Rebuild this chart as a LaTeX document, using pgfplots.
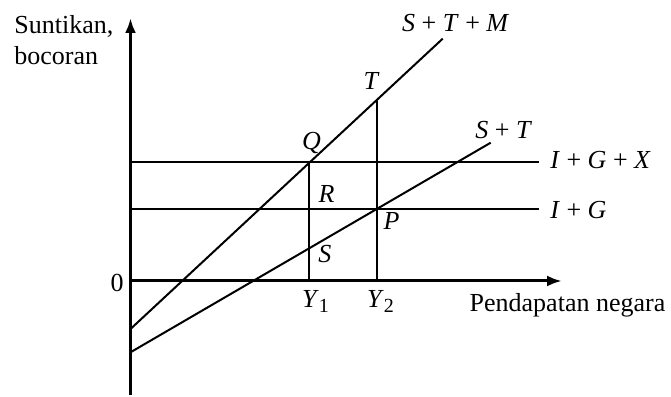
\documentclass[border=0pt]{standalone}
\usepackage{fontspec}
\setmainfont{Liberation Serif}
\usepackage{pgfplots}
\pgfplotsset{compat=1.18}
\usetikzlibrary{arrows.meta}
\tikzset{lab/.style={font=\fontsize{13}{15}\selectfont, inner sep=0pt}}
\newcommand{\pl}{\ +\ }
\begin{document}
\begin{tikzpicture}
\begin{axis}[
  hide axis,
  x=0.5pt, y=0.5pt,
  xmin=-130.5, xmax=540.5,
  ymin=-114, ymax=281,
  clip=false,
]
% axes
\addplot[line width=1.5pt, -{Latex[length=7.5pt,width=5.5pt]}] coordinates {(0,-114) (0,263)};
\addplot[line width=1.5pt, -{Latex[length=7.5pt,width=5.5pt]}] coordinates {(0,0) (431.5,0)};
% injections
\addplot[line width=1pt] coordinates {(0,118.5) (408.5,118.5)};
\addplot[line width=1pt] coordinates {(0,72) (408.5,72)};
% leakages
\addplot[line width=1pt] coordinates {(0,-48) (312.2,242.3)};
\addplot[line width=1pt] coordinates {(0,-71.3) (360.2,138.3)};
% income levels
\addplot[line width=1pt] coordinates {(178.8,0) (178.8,118.5)};
\addplot[line width=1pt] coordinates {(246.2,0) (246.2,181)};
\path (axis cs:-130.5,-114) rectangle (axis cs:540.5,281);
% labels
\node[lab, anchor=base west] at (axis cs:-116.5,247) {Suntikan,};
\node[lab, anchor=base west] at (axis cs:-116.5,216) {bocoran};
\node[lab, anchor=base east] at (axis cs:-6.5,-11) {0};
\node[lab, anchor=base west] at (axis cs:171.2,-27) {\textit{Y}\raisebox{-0.35ex}{\fontsize{10}{12}\selectfont 1}};
\node[lab, anchor=base west] at (axis cs:236.2,-27) {\textit{Y}\raisebox{-0.35ex}{\fontsize{10}{12}\selectfont 2}};
\node[lab, anchor=base west] at (axis cs:338.8,-30.7) {Pendapatan negara};
\node[lab, anchor=base west] at (axis cs:171.2,131) {\textit{Q}};
\node[lab, anchor=base west] at (axis cs:187.8,78.3) {\textit{R}};
\node[lab, anchor=base west] at (axis cs:187.5,18.3) {\textit{S}};
\node[lab, anchor=base west] at (axis cs:252.8,51) {\textit{P}};
\node[lab, anchor=base west] at (axis cs:232.8,191) {\textit{T}};
\node[lab, anchor=base west] at (axis cs:271.2,249.3) {\textit{S}\pl\textit{T}\pl\textit{M}};
\node[lab, anchor=base west] at (axis cs:344.5,142.7) {\textit{S}\pl\textit{T}};
\node[lab, anchor=base west] at (axis cs:419.5,112.7) {\textit{I}\pl\textit{G}\pl\textit{X}};
\node[lab, anchor=base west] at (axis cs:419.5,62.7) {\textit{I}\pl\textit{G}};
\end{axis}
\end{tikzpicture}
\end{document}
